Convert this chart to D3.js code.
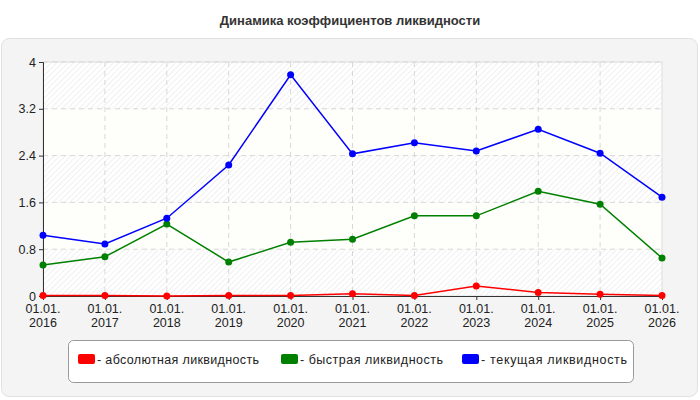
<!DOCTYPE html>
<html><head><meta charset="utf-8">
<script src="https://cdn.jsdelivr.net/npm/d3@7"></script>
<style>body{margin:0;background:#fff;font-family:Arial,"Liberation Sans",sans-serif}</style>
</head><body>
<svg id="chart" width="700" height="400"></svg>
<script>
var years = ['2016','2017','2018','2019','2020','2021','2022','2023','2024','2025','2026'];
var absolute = [0.01, 0.01, 0.00, 0.01, 0.01, 0.04, 0.01, 0.17, 0.06, 0.03, 0.01];
var quick = [0.53, 0.67, 1.23, 0.58, 0.92, 0.97, 1.37, 1.37, 1.79, 1.57, 0.65];
var current = [1.04, 0.89, 1.33, 2.24, 3.78, 2.43, 2.62, 2.48, 2.85, 2.44, 1.69];
var yTicks = [0, 0.8, 1.6, 2.4, 3.2, 4];
var seriesNames = ['- абсолютная ликвидность', '- быстрая ликвидность', '- текущая ликвидность'];
var colors = ['#ff0000', '#008000', '#0000ff'];

var svg = d3.select('#chart');
var plot = {l: 43, r: 662, t: 62, b: 296};

svg.append('text').attr('x', 350).attr('y', 25).attr('text-anchor', 'middle')
  .style('font-weight', 'bold').style('font-size', '13px').style('fill', '#333')
  .text('Динамика коэффициентов ликвидности');

svg.append('rect').attr('x', 1.5).attr('y', 38.5).attr('width', 696).attr('height', 358)
  .attr('rx', 8).attr('fill', '#f4f4f4').attr('stroke', '#e0e0e0');

// hatch pattern
var defs = svg.append('defs');
var pat = defs.append('pattern').attr('id', 'hatch').attr('width', 4).attr('height', 4)
  .attr('patternUnits', 'userSpaceOnUse').attr('patternTransform', 'rotate(45)');
pat.append('rect').attr('width', 4).attr('height', 4).attr('fill', '#fff');
pat.append('line').attr('x1', 0).attr('y1', 0).attr('x2', 0).attr('y2', 4)
  .attr('stroke', '#ececec').attr('stroke-width', 1.5);

var x = d3.scalePoint().domain(years).range([plot.l, plot.r]);
var y = d3.scaleLinear().domain([0, 4]).range([plot.b, plot.t]);

// alternating bands
for (var i = 0; i < yTicks.length - 1; i++) {
  svg.append('rect').attr('x', plot.l).attr('width', plot.r - plot.l)
    .attr('y', y(yTicks[i + 1])).attr('height', y(yTicks[i]) - y(yTicks[i + 1]))
    .attr('fill', i % 2 == 0 ? 'url(#hatch)' : '#fefefa');
}
svg.append('rect').attr('x', plot.l).attr('y', plot.t).attr('width', plot.r - plot.l)
  .attr('height', plot.b - plot.t).attr('fill', 'none').attr('stroke', '#ddd');

// grid
svg.append('g').selectAll('line').data(yTicks.slice(1)).enter().append('line')
  .attr('x1', plot.l).attr('x2', plot.r).attr('y1', d => y(d)).attr('y2', d => y(d))
  .attr('stroke', '#d8d8d8').attr('stroke-dasharray', '5,4');
svg.append('g').selectAll('line').data(years.slice(1, -1)).enter().append('line')
  .attr('x1', d => x(d)).attr('x2', d => x(d)).attr('y1', plot.t).attr('y2', plot.b)
  .attr('stroke', '#d8d8d8').attr('stroke-dasharray', '5,4');

// axes
var yAxis = svg.append('g').attr('transform', 'translate(' + plot.l + ',0)')
  .call(d3.axisLeft(y).tickValues(yTicks).tickFormat(d => d).tickSize(4));
var xAxis = svg.append('g').attr('transform', 'translate(0,' + plot.b + ')')
  .call(d3.axisBottom(x).tickSize(4).tickFormat(''));
[xAxis, yAxis].forEach(function(a) {
  a.select('.domain').attr('stroke', '#333');
  a.selectAll('.tick line').attr('stroke', '#333');
  a.selectAll('text').style('font-size', '12.5px').style('fill', '#222').style('font-family', 'Arial, "Liberation Sans", sans-serif');
});
var lbl = svg.append('g').selectAll('text').data(years).enter().append('text')
  .attr('x', d => x(d)).attr('text-anchor', 'middle')
  .style('font-size', '12.5px').style('fill', '#222');
lbl.append('tspan').attr('x', d => x(d)).attr('y', plot.b + 17).text('01.01.');
lbl.append('tspan').attr('x', d => x(d)).attr('y', plot.b + 31).text(d => d);

// lines
var line = d3.line().x((d, i) => x(years[i])).y(d => y(d));
[absolute, quick, current].forEach(function(s, k) {
  svg.append('path').datum(s).attr('d', line).attr('fill', 'none')
    .attr('stroke', colors[k]).attr('stroke-width', 1.5);
  svg.append('g').selectAll('circle').data(s).enter().append('circle')
    .attr('cx', (d, i) => x(years[i])).attr('cy', d => y(d)).attr('r', 3.5).attr('fill', colors[k]);
});

// legend
svg.append('rect').attr('x', 68.5).attr('y', 340.5).attr('width', 565).attr('height', 42)
  .attr('rx', 5).attr('fill', '#fff').attr('stroke', '#999');
var legX = [78, 281, 462];
var legW = [162, 143, 146];
seriesNames.forEach(function(n, k) {
  svg.append('rect').attr('x', legX[k]).attr('y', 354).attr('width', 17).attr('height', 10)
    .attr('rx', 2).attr('fill', colors[k]);
  svg.append('text').attr('x', legX[k] + 19).attr('y', 364).style('font-size', '12.5px')
    .attr('textLength', legW[k]).attr('lengthAdjust', 'spacing')
    .style('fill', '#222').text(n);
});
</script>
</body></html>
